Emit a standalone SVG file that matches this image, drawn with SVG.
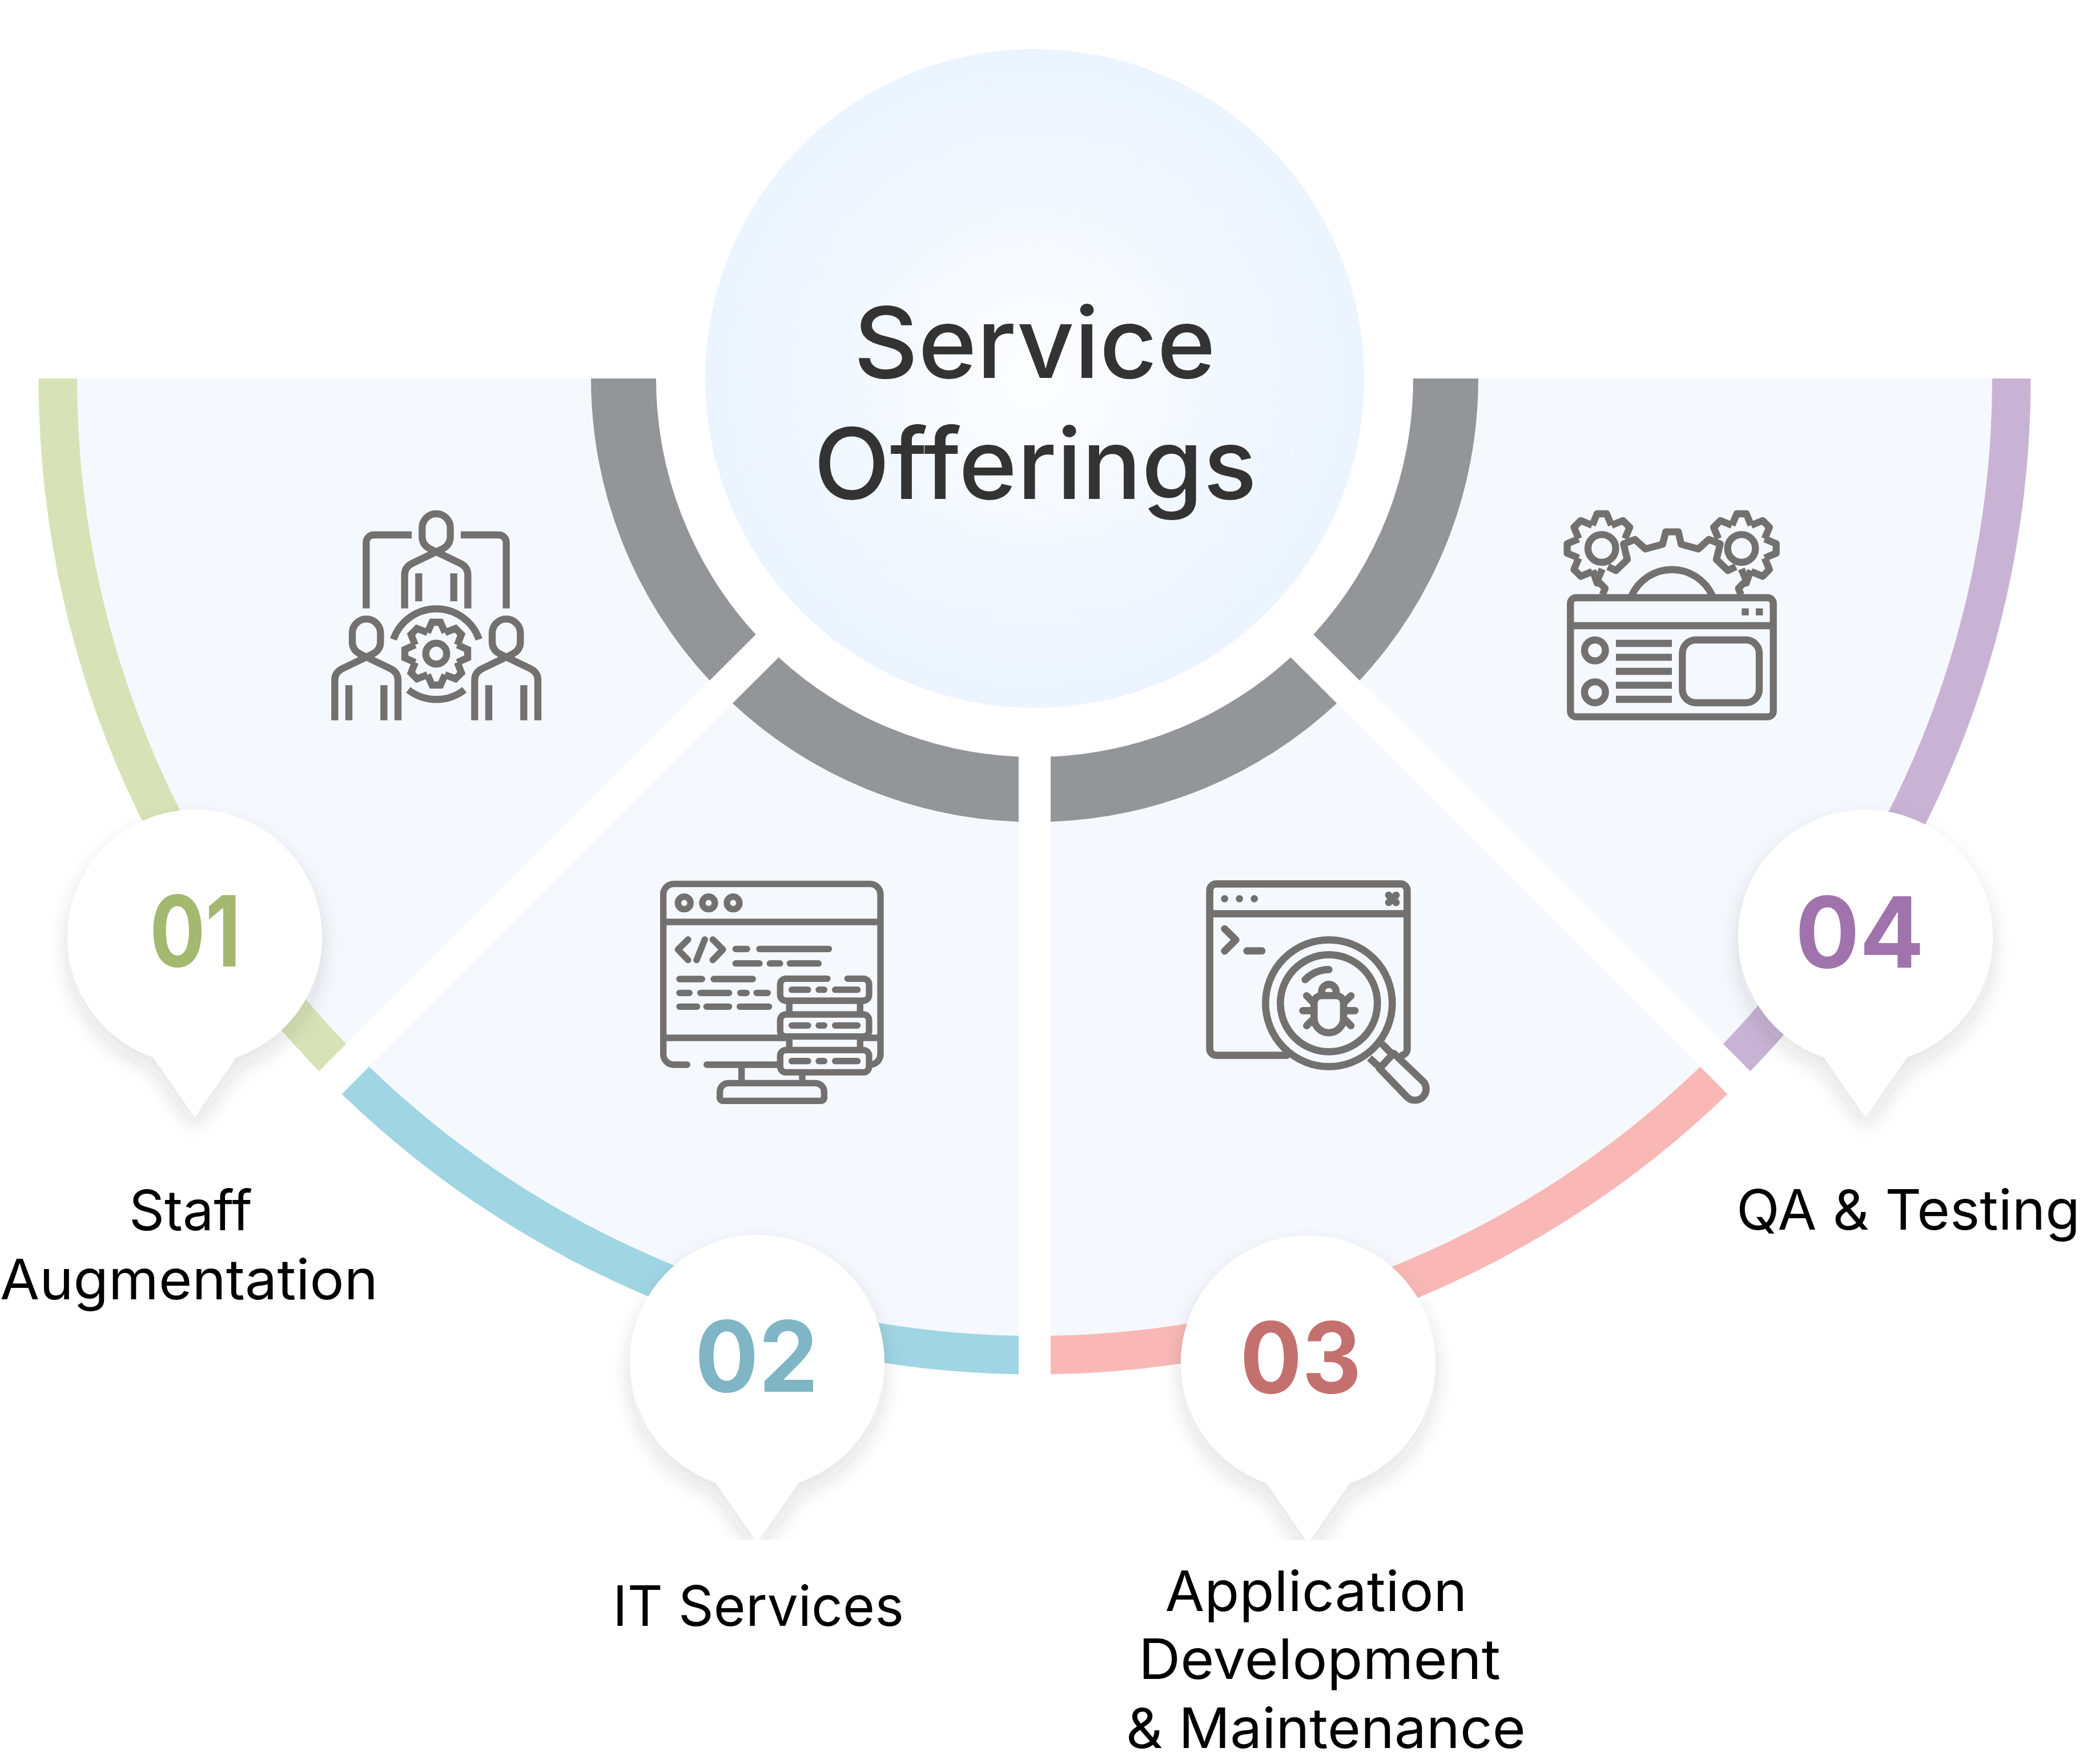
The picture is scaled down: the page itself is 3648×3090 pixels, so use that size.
<svg xmlns="http://www.w3.org/2000/svg" xmlns:xlink="http://www.w3.org/1999/xlink" width="3648" height="3090" viewBox="0 0 3648 3090">
<style>
.fill{fill:#F5F8FD}.grey{fill:#939598}
.lbl{font-family:Inter,"Noto Sans",sans-serif;font-size:97px;fill:#000;text-anchor:middle}
.ttl{font-family:Inter,"Noto Sans",sans-serif;font-size:172px;font-weight:500;fill:#333;text-anchor:middle}
.num{font-family:Inter,"Noto Sans",sans-serif;font-size:172px;font-weight:700;text-anchor:middle}
.ic{fill:none;stroke:#72716F;stroke-linejoin:miter}
.rd{stroke-linecap:round;stroke-linejoin:round}
</style>
<defs>
<radialGradient id="cg"><stop offset="0" stop-color="#FCFDFF"/><stop offset="1" stop-color="#EBF4FF"/></radialGradient>
<filter id="sh" x="-30%" y="-30%" width="160%" height="160%"><feDropShadow dx="0" dy="18" stdDeviation="18" flood-color="#333" flood-opacity=".14"/></filter>
<path id="pin" d="M-73,211A223,223 0 1 1 73,211L0,316Z" fill="#fff" filter="url(#sh)"/>
<path id="p1" d="M-166,497V320C-166,290 -150,272 -125,260L0,200L35,183C60,170 74,150 74,120V74A74,74 0 0 0 -74,74V120C-74,150 -60,170 -35,183L0,200L125,260C150,272 166,290 166,320V497"/>
<path id="p2" d="M-166,532V320C-166,290 -150,272 -125,260L0,200L35,183C60,170 74,150 74,120V74A74,74 0 0 0 -74,74V120C-74,150 -60,170 -35,183L0,200L125,260C150,272 166,290 166,320V532M-92,348V532M92,348V532"/>
<path id="t1" d="M-46,-111L-22,-165H22L46,-111"/>
<path id="t2" d="M-50,-122L-25,-182H25L50,-122"/>
<g id="smallgear">
<circle r="73"/>
<use xlink:href="#t2"/><use xlink:href="#t2" transform="rotate(45)"/>
<use xlink:href="#t2" transform="rotate(-45)"/><use xlink:href="#t2" transform="rotate(-90)"/><use xlink:href="#t2" transform="rotate(-135)"/>
<path d="M-48,115L-25,182H-10"/>
</g>
</defs>
<rect width="3648" height="3090" fill="#fff"/>
<g id="node-center">
<circle cx="1812" cy="663" r="577" fill="url(#cg)"/>
<text class="ttl" x="1812" y="662" textLength="634" lengthAdjust="spacingAndGlyphs">Service</text>
<text class="ttl" x="1813" y="874" textLength="776" lengthAdjust="spacingAndGlyphs">Offerings</text>
</g>
<g id="node-1">
<path class="fill" d="M135,663A1677,1677 0 0 0 606.400,1828.600L1323.600,1111.400A663,663 0 0 1 1149,663Z"/>
<path fill="#D7E3B7" d="M67.500,663A1744.500,1744.500 0 0 0 558.600,1876.400L606.400,1828.600A1677,1677 0 0 1 135,663Z"/>
<path class="grey" d="M1035,663A777,777 0 0 0 1242.900,1192.100L1323.600,1111.400A663,663 0 0 1 1149,663Z"/>
<g class="ic" stroke-width="37" transform="translate(540,860) scale(.33333)">
<use xlink:href="#p1" transform="translate(672,120)"/>
<path d="M580,433V580M764,433V580M304,617V272A40,40 0 0 1 344,231H543M1040,617V272A40,40 0 0 0 1000,231H801"/>
<use xlink:href="#p2" transform="translate(305,673)"/>
<use xlink:href="#p2" transform="translate(1040,673)"/>
<path d="M447,780A238,238 0 0 1 897,780M525,1045A240,240 0 0 0 820,1045"/>
<circle cx="672" cy="855" r="55"/>
<g transform="translate(672,855)">
<use xlink:href="#t1"/><use xlink:href="#t1" transform="rotate(45)"/><use xlink:href="#t1" transform="rotate(90)"/><use xlink:href="#t1" transform="rotate(135)"/><use xlink:href="#t1" transform="rotate(180)"/><use xlink:href="#t1" transform="rotate(225)"/><use xlink:href="#t1" transform="rotate(270)"/><use xlink:href="#t1" transform="rotate(315)"/>
</g>
</g>
<use xlink:href="#pin" x="341" y="1641"/>
<text class="num" x="342" y="1693" fill="#A4B86F" textLength="160" lengthAdjust="spacingAndGlyphs">01</text>
<text class="lbl" x="334" y="2155" textLength="216" lengthAdjust="spacingAndGlyphs">Staff</text>
<text class="lbl" x="331" y="2276" textLength="662" lengthAdjust="spacingAndGlyphs">Augmentation</text>
</g>
<g id="node-2">
<path class="fill" d="M646.400,1868.600A1677,1677 0 0 0 1784,2339.800V1325.400A663,663 0 0 1 1363.600,1151.400Z"/>
<path fill="#A0D5E3" d="M598.600,1916.400A1744.500,1744.500 0 0 0 1784,2407.300V2339.800A1677,1677 0 0 1 646.400,1868.600Z"/>
<path class="grey" d="M1282.900,1232.100A777,777 0 0 0 1784,1439.500V1325.400A663,663 0 0 1 1363.600,1151.400Z"/>
<g class="ic rd" stroke-width="34" transform="translate(1130,1510) scale(.33333)">
<path d="M220,1065H150A55,55 0 0 1 95,1010V170A55,55 0 0 1 150,115H1181A55,55 0 0 1 1236,170V1010A55,55 0 0 1 1191,1064M95,315H1236M95,924H757M1129,924H1236"/>
<circle cx="205" cy="215" r="33"/><circle cx="333" cy="215" r="33"/><circle cx="462" cy="215" r="33"/>
<path d="M225,407L172,460L225,515M313,407L270,515M355,407L408,460L355,515M475,457H535M600,457H965M475,533H600M655,533H708M760,533H910M180,615H298M360,615H565M180,688H232M290,688H440M500,688H532M585,688H643M180,760H272M322,760H440M497,760H650"/>
<path d="M957,613H739A30,30 0 0 0 709,643V699A30,30 0 0 0 739,729H1146A30,30 0 0 0 1176,699V643A30,30 0 0 0 1146,613H1063"/>
<rect x="709" y="801" width="467" height="116" rx="30"/><rect x="709" y="988" width="467" height="117" rx="30"/>
<path d="M770,671H855M912,671H940M998,671H1115M770,859H855M912,859H940M998,859H1115M770,1046H855M912,1046H940M998,1046H1115"/>
<path stroke-linecap="butt" d="M757,729V801M1129,729V801M757,917V988M1129,917V988M506,1065V1162M825,1105V1162"/>
<path d="M323,1065H709"/>
<path d="M409,1255A17,17 0 0 1 392,1238V1207A45,45 0 0 1 437,1162H895A45,45 0 0 1 940,1207V1238A17,17 0 0 1 923,1255Z"/>
</g>
<use xlink:href="#pin" x="1326" y="2386"/>
<text class="num" x="1325" y="2438" fill="#7FB5C4" textLength="216" lengthAdjust="spacingAndGlyphs">02</text>
<rect x="1040" y="2697" width="600" height="393" fill="#fff"/>
<text class="lbl" x="1328" y="2848" textLength="510" lengthAdjust="spacingAndGlyphs">IT Services</text>
</g>
<g id="node-3">
<path class="fill" d="M2977.600,1868.600A1677,1677 0 0 1 1840,2339.800V1325.400A663,663 0 0 0 2260.400,1151.400Z"/>
<path fill="#F9B8B6" d="M3025.400,1916.400A1744.500,1744.500 0 0 1 1840,2407.300V2339.800A1677,1677 0 0 0 2977.600,1868.600Z"/>
<path class="grey" d="M2341.100,1232.100A777,777 0 0 1 1840,1439.500V1325.400A663,663 0 0 0 2260.400,1151.400Z"/>
<g class="ic rd" stroke-width="38" transform="translate(2090,1510) scale(.33333)">
<path d="M490,1016H120A34,34 0 0 1 86,982V149A34,34 0 0 1 120,115H1089A34,34 0 0 1 1123,149V982A34,34 0 0 1 1098,1015M86,272H1123"/>
<path d="M164,193h.01M242,193h.01M320,193h.01M1026,174L1065,213M1065,174L1026,213M164,351L223,409L164,468M281,467H360"/>
<circle cx="712" cy="742" r="333"/><circle cx="712" cy="742" r="255"/>
<path d="M587,618Q640,566 712,565M634,740A38,38 0 0 1 672,702H751A38,38 0 0 1 789,740V820A77.500,77.500 0 0 1 634,820ZM674,700V681A38,38 0 0 1 750,681V700M595,703L630,738M828,703L793,738M575,781H625M849,781H798M595,860L630,825M828,860L793,825"/>
<path stroke-linecap="butt" d="M925,1030L985,1085M990,955L1045,1010"/>
<path d="M978,1085L1052,1005L1206,1152A58.500,58.500 0 0 1 1122,1234Z"/>
</g>
<use xlink:href="#pin" x="2291" y="2387"/>
<text class="num" x="2278" y="2440" fill="#C4706F" textLength="213" lengthAdjust="spacingAndGlyphs">03</text>
<rect x="1960" y="2698" width="760" height="392" fill="#fff"/>
<text class="lbl" x="2305" y="2822" textLength="529" lengthAdjust="spacingAndGlyphs">Application</text>
<text class="lbl" x="2311" y="2941" textLength="634" lengthAdjust="spacingAndGlyphs">Development</text>
<text class="lbl" x="2322" y="3062" textLength="700" lengthAdjust="spacingAndGlyphs">&amp; Maintenance</text>
</g>
<g id="node-4">
<path class="fill" d="M3489,663A1677,1677 0 0 1 3017.600,1828.600L2300.400,1111.400A663,663 0 0 0 2475,663Z"/>
<path fill="#C9B3D5" d="M3556.500,663A1744.500,1744.500 0 0 1 3065.400,1876.400L3017.600,1828.600A1677,1677 0 0 0 3489,663Z"/>
<path class="grey" d="M2589,663A777,777 0 0 1 2381.100,1192.100L2300.400,1111.400A663,663 0 0 0 2475,663Z"/>
<g class="ic" stroke-width="37" transform="translate(2710,870) scale(.33333)">
<rect x="121" y="531" width="1066" height="626" rx="30"/>
<path d="M121,678H1187M360,771H654M360,844H654M360,918H654M360,991H654M360,1065H654"/>
<rect x="1021" y="587" width="37" height="37" fill="#72716F" stroke="none"/><rect x="1095" y="587" width="37" height="37" fill="#72716F" stroke="none"/>
<circle cx="250" cy="808" r="55"/><circle cx="250" cy="1028" r="55"/>
<rect x="709" y="753" width="404" height="330" rx="70"/>
<path d="M443,520A232,232 0 0 1 866,520"/>
<g stroke-linejoin="round">
<use xlink:href="#smallgear" transform="translate(286,272)"/>
<use xlink:href="#smallgear" transform="translate(1020,272) scale(-1,1)"/>
<path d="M290,515L303,482L262,440L288,380M1017,515L1004,482L1045,440L1019,380M318,368L360,388L420,330L400,248L460,225L515,275L605,250L622,185H688L703,250L793,275L848,225L908,248L888,330L948,388L990,368"/>
</g>
</g>
<use xlink:href="#pin" x="3267" y="1641"/>
<text class="num" x="3257" y="1695" fill="#A073AC" textLength="226" lengthAdjust="spacingAndGlyphs">04</text>
<text class="lbl" x="3342" y="2154" textLength="602" lengthAdjust="spacingAndGlyphs">QA &amp; Testing</text>
</g>
<g id="connectors"/>
</svg>
